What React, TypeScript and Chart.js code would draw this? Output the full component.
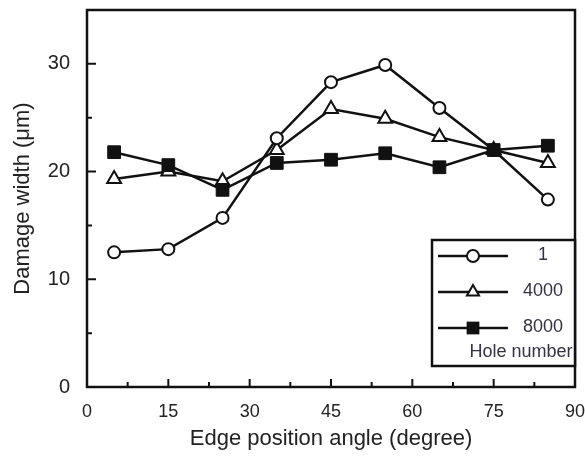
import { useEffect, useRef } from 'react';
import { Chart, registerables } from 'chart.js';

Chart.register(...registerables);

const angles = [5, 15, 25, 35, 45, 55, 65, 75, 85];
const hole1 = [12.5, 12.8, 15.7, 23.1, 28.3, 29.9, 25.9, 22.0, 17.4];
const hole4000 = [19.3, 20.0, 19.1, 22.0, 25.8, 24.9, 23.2, 22.0, 20.8];
const hole8000 = [21.8, 20.6, 18.3, 20.8, 21.1, 21.7, 20.4, 22.0, 22.4];
const seriesLabels = ['1', '4000', '8000'];
const legendTitle = 'Hole number';
const xTicks = [0, 15, 30, 45, 60, 75, 90];
const xMinorTicks = [7.5, 22.5, 37.5, 52.5, 67.5, 82.5];
const yTicks = [0, 10, 20, 30];
const yMinorTicks = [5, 15, 25];
const xTitle = 'Edge position angle (degree)';
const yTitle = 'Damage width (\u03bcm)';

const INK = '#111111';
const TEXT = '#222222';
const FONT = '"Liberation Sans", Arial, sans-serif';

function drawMarker(ctx: CanvasRenderingContext2D, style: string, x: number, y: number, r: number) {
  ctx.save();
  ctx.lineWidth = 2;
  ctx.strokeStyle = INK;
  ctx.beginPath();
  if (style === 'circle') {
    ctx.arc(x, y, r, 0, Math.PI * 2);
    ctx.fillStyle = '#fff';
    ctx.fill();
    ctx.stroke();
  } else if (style === 'triangle') {
    const w = r * Math.sqrt(3) / 2;
    ctx.moveTo(x, y - r);
    ctx.lineTo(x + w, y + r / 2);
    ctx.lineTo(x - w, y + r / 2);
    ctx.closePath();
    ctx.fillStyle = '#fff';
    ctx.fill();
    ctx.stroke();
  } else {
    const s = r * Math.SQRT1_2;
    ctx.fillStyle = INK;
    ctx.fillRect(x - s, y - s, 2 * s, 2 * s);
  }
  ctx.restore();
}

const zeroPad = (s: any) => {
  s.paddingLeft = 0;
  s.paddingRight = 0;
  s.paddingTop = 0;
  s.paddingBottom = 0;
};

const framePlugin = {
  id: 'frameTicks',
  beforeDatasetsDraw(chart: any) {
    const { ctx, chartArea: a, scales } = chart;
    const xs = scales.x;
    const ys = scales.y;
    ctx.save();
    ctx.strokeStyle = INK;
    ctx.lineWidth = 2.5;
    ctx.strokeRect(a.left, a.top, a.right - a.left, a.bottom - a.top);
    ctx.lineWidth = 2;
    ctx.beginPath();
    xTicks.forEach((v) => {
      const px = xs.getPixelForValue(v);
      ctx.moveTo(px, a.bottom);
      ctx.lineTo(px, a.bottom - 8);
    });
    xMinorTicks.forEach((v) => {
      const px = xs.getPixelForValue(v);
      ctx.moveTo(px, a.bottom);
      ctx.lineTo(px, a.bottom - 5);
    });
    yTicks.forEach((v) => {
      const py = ys.getPixelForValue(v);
      ctx.moveTo(a.left, py);
      ctx.lineTo(a.left + 9, py);
    });
    yMinorTicks.forEach((v) => {
      const py = ys.getPixelForValue(v);
      ctx.moveTo(a.left, py);
      ctx.lineTo(a.left + 5, py);
    });
    ctx.stroke();
    ctx.restore();
  },
  afterDraw(chart: any) {
    const { ctx, chartArea: a } = chart;
    const left = a.right - 143;
    const top = 240;
    const bottom = 366;
    ctx.save();
    ctx.fillStyle = '#fff';
    ctx.fillRect(left, top, a.right - left, bottom - top);
    ctx.strokeStyle = INK;
    ctx.lineWidth = 2.5;
    ctx.strokeRect(left, top, a.right - left, bottom - top);
    const rows = [256, 292, 328];
    const styles = ['circle', 'triangle', 'rect'];
    const radii = [6, 7, 9];
    chart.data.datasets.forEach((ds: any, i: number) => {
      const y = rows[i];
      ctx.strokeStyle = INK;
      ctx.lineWidth = 2.5;
      ctx.beginPath();
      ctx.moveTo(left + 6, y);
      ctx.lineTo(left + 76, y);
      ctx.stroke();
      drawMarker(ctx, styles[i], left + 41, y, radii[i]);
      ctx.fillStyle = '#333344';
      ctx.font = '18px ' + FONT;
      ctx.textAlign = 'center';
      ctx.textBaseline = 'middle';
      ctx.fillText(ds.label, left + 111, y - 1);
    });
    ctx.font = '18px ' + FONT;
    ctx.textAlign = 'center';
    ctx.textBaseline = 'middle';
    ctx.fillText(legendTitle, left + 89, 352);
    ctx.restore();
  },
};

export default function App() {
  const ref = useRef<HTMLCanvasElement | null>(null);
  useEffect(() => {
    if (!ref.current) return;
    const mk = (vals: number[]) => angles.map((x, i) => ({ x, y: vals[i] }));
    const chart = new Chart(ref.current, {
      type: 'line',
      data: {
        datasets: [
          {
            label: seriesLabels[0],
            data: mk(hole1),
            borderColor: INK,
            borderWidth: 2.5,
            pointStyle: 'circle',
            pointRadius: 6,
            pointBorderWidth: 2,
            pointBackgroundColor: '#fff',
            pointBorderColor: INK,
            order: 1,
          },
          {
            label: seriesLabels[1],
            data: mk(hole4000),
            borderColor: INK,
            borderWidth: 2.5,
            pointStyle: 'triangle',
            pointRadius: 8,
            pointBorderWidth: 2,
            pointBackgroundColor: '#fff',
            pointBorderColor: INK,
            order: 2,
          },
          {
            label: seriesLabels[2],
            data: mk(hole8000),
            borderColor: INK,
            borderWidth: 2.5,
            pointStyle: 'rect',
            pointRadius: 9,
            pointBorderWidth: 1,
            pointBackgroundColor: INK,
            pointBorderColor: INK,
            order: 0,
          },
        ],
      },
      options: {
        animation: false,
        responsive: false,
        maintainAspectRatio: false,
        layout: { padding: { left: 0, right: 6, top: 10, bottom: 0 } },
        plugins: { legend: { display: false }, tooltip: { enabled: false } },
        elements: { line: { tension: 0 } },
        scales: {
          x: {
            type: 'linear',
            min: 0,
            max: 90,
            grid: { display: false, drawTicks: false },
            border: { display: false },
            afterBuildTicks: (s: any) => {
              s.ticks = xTicks.map((v) => ({ value: v }));
            },
            afterFit: (s: any) => {
              s.height = 69;
              zeroPad(s);
            },
            ticks: {
              padding: 14,
              color: TEXT,
              maxRotation: 0,
              autoSkip: false,
              font: { family: FONT, size: 18 },
            },
            title: {
              display: true,
              text: xTitle,
              color: TEXT,
              font: { family: FONT, size: 22 },
              padding: { top: 0, bottom: 4 },
            },
          },
          y: {
            type: 'linear',
            min: 0,
            max: 35,
            grid: { display: false, drawTicks: false },
            border: { display: false },
            afterBuildTicks: (s: any) => {
              s.ticks = yTicks.map((v) => ({ value: v }));
            },
            afterFit: (s: any) => {
              s.width = 87;
              zeroPad(s);
            },
            ticks: {
              padding: 17,
              color: TEXT,
              autoSkip: false,
              font: { family: FONT, size: 20 },
            },
            title: {
              display: true,
              text: yTitle,
              color: TEXT,
              font: { family: FONT, size: 22 },
              padding: { top: 10, bottom: 0 },
            },
          },
        },
      },
      plugins: [framePlugin],
    });
    return () => chart.destroy();
  }, []);
  return (
    <div style={{ position: 'absolute', left: 0, top: 0, width: 585, height: 456, background: '#fff' }}>
      <canvas ref={ref} width={585} height={456} style={{ display: 'block' }} />
    </div>
  );
}
